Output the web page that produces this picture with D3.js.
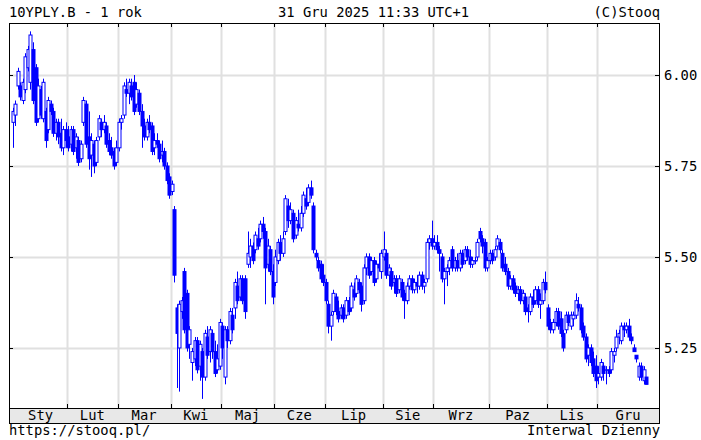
<!DOCTYPE html>
<html>
<head>
<meta charset="utf-8">
<script src="https://cdn.jsdelivr.net/npm/d3@7"></script>
<style>
  body { margin: 0; background: #fff; }
  text { font-family: "DejaVu Sans Mono", monospace; font-size: 13.8px; fill: #000; }
</style>
</head>
<body>
<script>
// month labels and number of sessions in each month
const monthLabels = ['Sty', 'Lut', 'Mar', 'Kwi', 'Maj', 'Cze', 'Lip', 'Sie', 'Wrz', 'Paz', 'Lis', 'Gru'];
const monthDays = [22, 20, 21, 20, 21, 20, 23, 20, 22, 23, 20, 20];
const yTicks = [5.25, 5.50, 5.75, 6.00];

// daily OHLC, one line per month
const opens = [
  5.87,5.89,5.97,5.97,5.93,5.96,6.02,5.98,6.07,6.02,5.88,5.96,5.88,5.90,5.85,5.92,5.90,5.84,5.87,5.84,5.80,5.85,
  5.83,5.81,5.85,5.80,5.82,5.77,5.87,5.92,5.83,5.78,5.81,5.76,5.83,5.87,5.85,5.86,5.82,5.80,5.79,5.76,
  5.80,5.87,5.89,5.96,5.95,5.97,5.98,5.92,5.95,5.90,5.86,5.83,5.87,5.86,5.80,5.82,5.81,5.78,5.79,5.75,5.72,
  5.68,5.63,5.36,5.25,5.35,5.46,5.40,5.26,5.21,5.22,5.27,5.20,5.24,5.17,5.28,5.24,5.29,5.24,5.19,5.20,
  5.31,5.17,5.30,5.27,5.34,5.36,5.42,5.39,5.44,5.44,5.48,5.50,5.53,5.52,5.55,5.55,5.59,5.57,5.48,5.52,5.46,
  5.43,5.49,5.54,5.51,5.57,5.64,5.60,5.62,5.56,5.59,5.58,5.62,5.66,5.65,5.69,5.64,5.51,5.49,5.48,5.45,
  5.43,5.37,5.31,5.35,5.39,5.35,5.34,5.36,5.34,5.38,5.36,5.41,5.40,5.43,5.42,5.38,5.47,5.50,5.46,5.49,5.44,5.48,5.46,
  5.50,5.51,5.45,5.46,5.43,5.44,5.41,5.43,5.40,5.38,5.42,5.44,5.41,5.43,5.42,5.45,5.42,5.44,5.54,5.55,
  5.53,5.54,5.52,5.50,5.44,5.46,5.47,5.52,5.47,5.49,5.47,5.51,5.49,5.52,5.50,5.48,5.49,5.50,5.57,5.55,5.54,5.47,
  5.49,5.51,5.50,5.53,5.54,5.51,5.48,5.46,5.42,5.44,5.42,5.40,5.41,5.38,5.39,5.36,5.35,5.39,5.38,5.41,5.37,5.38,5.43,
  5.36,5.32,5.30,5.32,5.35,5.33,5.29,5.30,5.34,5.31,5.33,5.34,5.37,5.36,5.31,5.28,5.23,5.25,5.22,5.20,
  5.17,5.17,5.20,5.19,5.19,5.19,5.23,5.25,5.28,5.27,5.31,5.30,5.31,5.28,5.25,5.23,5.17,5.20,5.16,5.17
];
const highs = [
  5.91,5.93,6.02,5.98,5.99,6.06,6.08,6.12,6.09,6.03,5.99,5.97,5.99,5.91,5.94,5.93,5.91,5.88,5.88,5.88,5.86,5.87,
  5.86,5.86,5.86,5.84,5.83,5.82,5.94,5.93,5.90,5.84,5.82,5.83,5.89,5.88,5.89,5.87,5.84,5.83,5.80,5.82,
  5.88,5.89,5.98,5.99,5.99,5.99,6.00,5.98,5.96,5.92,5.88,5.88,5.89,5.87,5.84,5.84,5.82,5.82,5.80,5.76,5.73,
  5.71,5.64,5.37,5.38,5.39,5.47,5.41,5.31,5.25,5.28,5.28,5.27,5.25,5.30,5.31,5.31,5.30,5.27,5.26,5.33,
  5.32,5.31,5.31,5.36,5.36,5.44,5.46,5.45,5.45,5.45,5.57,5.55,5.54,5.57,5.58,5.60,5.61,5.58,5.55,5.53,5.48,
  5.52,5.55,5.56,5.57,5.67,5.66,5.65,5.63,5.61,5.63,5.64,5.68,5.69,5.70,5.71,5.65,5.52,5.50,5.49,5.48,
  5.44,5.38,5.35,5.41,5.40,5.38,5.37,5.37,5.39,5.39,5.43,5.43,5.45,5.44,5.43,5.48,5.51,5.51,5.50,5.50,5.49,5.51,5.52,
  5.57,5.52,5.48,5.47,5.45,5.45,5.45,5.44,5.41,5.43,5.45,5.45,5.44,5.45,5.46,5.46,5.44,5.55,5.56,5.60,
  5.56,5.56,5.53,5.51,5.47,5.48,5.50,5.53,5.50,5.51,5.52,5.52,5.53,5.53,5.52,5.50,5.50,5.55,5.58,5.56,5.55,5.50,
  5.52,5.52,5.53,5.56,5.55,5.52,5.50,5.47,5.45,5.45,5.43,5.42,5.42,5.41,5.40,5.37,5.40,5.41,5.42,5.42,5.40,5.44,5.46,
  5.37,5.33,5.33,5.36,5.36,5.35,5.30,5.35,5.35,5.35,5.35,5.40,5.39,5.37,5.32,5.29,5.26,5.26,5.24,5.23,
  5.20,5.22,5.21,5.20,5.20,5.25,5.25,5.30,5.30,5.32,5.32,5.32,5.33,5.29,5.26,5.23,5.21,5.21,5.20,5.17
];
const lows = [
  5.80,5.86,5.96,5.93,5.92,5.95,6.01,5.96,5.92,5.86,5.87,5.88,5.87,5.80,5.84,5.89,5.83,5.82,5.81,5.79,5.78,5.80,
  5.79,5.79,5.78,5.77,5.75,5.76,5.86,5.80,5.74,5.72,5.73,5.75,5.82,5.83,5.84,5.80,5.78,5.77,5.74,5.75,
  5.79,5.85,5.88,5.94,5.92,5.93,5.89,5.91,5.89,5.80,5.82,5.82,5.84,5.78,5.78,5.80,5.76,5.76,5.74,5.70,5.66,
  5.67,5.43,5.14,5.13,5.33,5.29,5.24,5.22,5.16,5.20,5.18,5.16,5.11,5.16,5.22,5.21,5.22,5.17,5.18,5.19,
  5.22,5.15,5.25,5.26,5.29,5.33,5.37,5.38,5.37,5.33,5.47,5.47,5.48,5.51,5.52,5.54,5.55,5.37,5.46,5.45,5.37,
  5.42,5.48,5.49,5.50,5.56,5.58,5.59,5.54,5.55,5.57,5.57,5.61,5.63,5.64,5.66,5.51,5.49,5.46,5.43,5.42,
  5.37,5.29,5.27,5.34,5.34,5.32,5.33,5.32,5.33,5.34,5.35,5.38,5.39,5.40,5.35,5.37,5.45,5.44,5.45,5.42,5.43,5.46,5.44,
  5.49,5.44,5.42,5.41,5.40,5.39,5.40,5.38,5.33,5.37,5.41,5.40,5.40,5.40,5.41,5.41,5.40,5.43,5.52,5.52,
  5.52,5.51,5.46,5.43,5.37,5.42,5.45,5.46,5.46,5.46,5.46,5.47,5.48,5.49,5.47,5.47,5.48,5.49,5.54,5.51,5.46,5.46,
  5.48,5.48,5.49,5.52,5.51,5.46,5.45,5.41,5.41,5.40,5.39,5.38,5.37,5.37,5.34,5.32,5.34,5.36,5.37,5.36,5.33,5.37,5.40,
  5.30,5.29,5.29,5.31,5.30,5.28,5.24,5.29,5.31,5.30,5.31,5.33,5.35,5.29,5.27,5.21,5.20,5.20,5.17,5.14,
  5.15,5.16,5.16,5.15,5.17,5.18,5.21,5.24,5.26,5.26,5.28,5.29,5.27,5.26,5.24,5.21,5.16,5.16,5.15,5.15
];
const closes = [
  5.90,5.92,6.01,5.94,5.98,6.05,6.07,6.11,5.93,5.87,5.97,5.89,5.98,5.82,5.93,5.90,5.84,5.87,5.83,5.80,5.85,5.82,
  5.80,5.85,5.79,5.83,5.76,5.81,5.93,5.81,5.77,5.82,5.75,5.82,5.88,5.85,5.87,5.81,5.79,5.78,5.75,5.80,
  5.87,5.88,5.97,5.95,5.98,5.94,5.90,5.96,5.90,5.86,5.83,5.87,5.85,5.79,5.82,5.81,5.77,5.79,5.75,5.71,5.67,
  5.70,5.45,5.29,5.37,5.38,5.30,5.25,5.30,5.24,5.27,5.19,5.26,5.17,5.29,5.23,5.30,5.24,5.18,5.22,5.32,
  5.25,5.30,5.27,5.35,5.30,5.43,5.38,5.44,5.38,5.35,5.51,5.53,5.49,5.56,5.53,5.59,5.57,5.47,5.53,5.46,5.39,
  5.50,5.54,5.51,5.55,5.66,5.60,5.63,5.55,5.60,5.58,5.62,5.67,5.64,5.69,5.67,5.52,5.50,5.47,5.44,5.43,
  5.38,5.31,5.34,5.40,5.35,5.33,5.36,5.33,5.38,5.35,5.42,5.39,5.44,5.41,5.37,5.47,5.50,5.45,5.49,5.43,5.48,5.47,5.51,
  5.52,5.45,5.47,5.42,5.44,5.40,5.44,5.39,5.38,5.42,5.44,5.41,5.43,5.42,5.45,5.42,5.43,5.54,5.55,5.53,
  5.54,5.52,5.51,5.44,5.46,5.47,5.49,5.47,5.49,5.47,5.51,5.48,5.52,5.50,5.48,5.49,5.49,5.54,5.55,5.53,5.47,5.49,
  5.51,5.49,5.52,5.55,5.52,5.47,5.46,5.42,5.44,5.41,5.40,5.41,5.38,5.40,5.35,5.35,5.39,5.37,5.41,5.37,5.38,5.43,5.41,
  5.31,5.30,5.32,5.35,5.31,5.29,5.25,5.34,5.32,5.34,5.34,5.38,5.36,5.30,5.28,5.22,5.25,5.21,5.18,5.16,
  5.18,5.21,5.18,5.19,5.18,5.24,5.24,5.28,5.29,5.31,5.30,5.31,5.28,5.27,5.24,5.22,5.20,5.17,5.19,5.15
];

const W = 701, H = 440;
const pLeft = 9, pRight = 659, pTop = 23, pBottom = 408, bandBottom = 423;
const blue = '#0000ff';

const candles = closes.map(function(c, i) {
  return { i: i, o: opens[i], h: highs[i], l: lows[i], c: c };
});

const x = d3.scaleLinear().domain([-1.5, 256]).range([pLeft, pRight]);
const y = d3.scaleLinear().domain([5.085, 6.143]).range([pBottom, pTop]);

const svg = d3.select('body').append('svg')
  .attr('width', W)
  .attr('height', H);

// month boundaries in session index
const starts = [];
let acc = 0;
monthDays.forEach(function(d) { starts.push(acc); acc += d; });
const bounds = starts.slice(1).map(function(s) { return s - 0.5; });

// grid
svg.append('g').selectAll('line')
  .data(bounds)
  .enter().append('line')
  .attr('x1', function(d) { return Math.round(x(d)) + 0.5; })
  .attr('x2', function(d) { return Math.round(x(d)) + 0.5; })
  .attr('y1', pTop).attr('y2', pBottom)
  .attr('stroke', '#e0e0e0').attr('stroke-width', 2);

svg.append('g').selectAll('line')
  .data(yTicks)
  .enter().append('line')
  .attr('x1', pLeft).attr('x2', pRight)
  .attr('y1', function(d) { return Math.round(y(d)) + 0.5; })
  .attr('y2', function(d) { return Math.round(y(d)) + 0.5; })
  .attr('stroke', '#e0e0e0').attr('stroke-width', 2);

// candles: hollow when the close is above the open
const g = svg.append('g');
g.selectAll('line')
  .data(candles)
  .enter().append('line')
  .attr('x1', function(d) { return Math.round(x(d.i)) + 0.5; })
  .attr('x2', function(d) { return Math.round(x(d.i)) + 0.5; })
  .attr('y1', function(d) { return y(d.h); })
  .attr('y2', function(d) { return y(d.l); })
  .attr('stroke', blue).attr('stroke-width', 1);

g.selectAll('rect')
  .data(candles)
  .enter().append('rect')
  .attr('x', function(d) { return Math.round(x(d.i)) - 1; })
  .attr('width', 3)
  .attr('y', function(d) { return y(Math.max(d.o, d.c)); })
  .attr('height', function(d) { return Math.max(0.5, Math.abs(y(d.o) - y(d.c))); })
  .attr('fill', function(d) { return d.c >= d.o ? '#fff' : blue; })
  .attr('stroke', blue).attr('stroke-width', 1);

// frame and month band
svg.append('rect')
  .attr('x', pLeft + 0.5).attr('y', pBottom + 0.5)
  .attr('width', pRight - pLeft).attr('height', bandBottom - pBottom)
  .attr('fill', '#e8e8e8').attr('stroke', '#000');
svg.append('rect')
  .attr('x', pLeft + 0.5).attr('y', pTop + 0.5)
  .attr('width', pRight - pLeft).attr('height', pBottom - pTop)
  .attr('fill', 'none').attr('stroke', '#000');

// tick marks
bounds.forEach(function(b) {
  const xx = Math.round(x(b)) + 0.5;
  svg.append('line').attr('x1', xx).attr('x2', xx).attr('y1', pTop).attr('y2', pTop + 4).attr('stroke', '#000');
  svg.append('line').attr('x1', xx).attr('x2', xx).attr('y1', pBottom - 4).attr('y2', pBottom).attr('stroke', '#000');
});
yTicks.forEach(function(t) {
  const yy = Math.round(y(t)) + 0.5;
  svg.append('line').attr('x1', pRight - 4).attr('x2', pRight).attr('y1', yy).attr('y2', yy).attr('stroke', '#000');
  svg.append('line').attr('x1', pLeft).attr('x2', pLeft + 4).attr('y1', yy).attr('y2', yy).attr('stroke', '#000');
});

// y labels
svg.append('g').selectAll('text')
  .data(yTicks)
  .enter().append('text')
  .attr('x', 664)
  .attr('y', function(d) { return y(d) + 5; })
  .text(function(d) { return d.toFixed(2); });

// month labels
svg.append('g').selectAll('text')
  .data(monthLabels)
  .enter().append('text')
  .attr('text-anchor', 'middle')
  .attr('x', function(d, k) {
    const a = k === 0 ? 0.5 : starts[k] - 0.5;
    const b = k === monthLabels.length - 1 ? 256 : starts[k + 1] - 0.5;
    return (x(a) + x(b)) / 2;
  })
  .attr('y', 420)
  .text(function(d) { return d; });

// header and footer
svg.append('text').attr('x', 9).attr('y', 17).text('10YPLY.B - 1 rok');
svg.append('text').attr('x', 278).attr('y', 17).text('31 Gru 2025 11:33 UTC+1');
svg.append('text').attr('x', 660).attr('y', 17).attr('text-anchor', 'end').text('(C)Stooq');
svg.append('text').attr('x', 9).attr('y', 435).text('https://stooq.pl/');
svg.append('text').attr('x', 660).attr('y', 435).attr('text-anchor', 'end').text('Interwal Dzienny');
</script>
</body>
</html>
